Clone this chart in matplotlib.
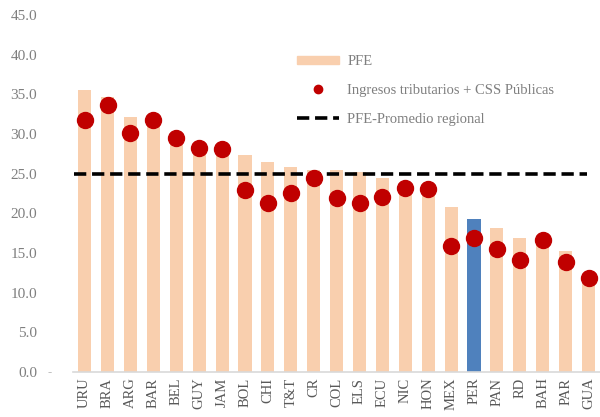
import numpy as np
import matplotlib
matplotlib.use("Agg")
from matplotlib import pyplot as plt
from matplotlib.lines import Line2D
from matplotlib.patches import Patch

# datos
paises = ["URU", "BRA", "ARG", "BAR", "BEL", "GUY", "JAM", "BOL", "CHI", "T&T", "CR",
          "COL", "ELS", "ECU", "NIC", "HON", "MEX", "PER", "PAN", "RD", "BAH", "PAR", "GUA"]
pfe = [35.5, 34.7, 32.2, 32.0, 29.8, 28.5, 28.3, 27.3, 26.5, 25.9, 25.5,
       25.4, 25.2, 24.4, 23.6, 23.4, 20.8, 19.3, 18.2, 16.9, 16.6, 15.2, 12.1]
ingresos = [31.8, 33.7, 30.1, 31.8, 29.5, 28.2, 28.1, 23.0, 21.3, 22.6, 24.4,
            21.9, 21.3, 22.0, 23.2, 23.1, 15.9, 16.9, 15.5, 14.1, 16.6, 13.9, 11.9]
promedio = 25.0
yticks = [0, 5, 10, 15, 20, 25, 30, 35, 40, 45]

serif = ["Liberation Serif", "DejaVu Serif"]
gris = "#7f7f7f"

fig = plt.figure(figsize=(6, 4.17), dpi=100)
ax = fig.add_axes([0.122, 0.108, 0.878, 0.856])

x = np.arange(len(paises))
colores = ["#4f81bd" if p == "PER" else "#f9cfae" for p in paises]
ax.bar(x, pfe, width=0.57, color=colores, zorder=1)
ax.plot(x, ingresos, "o", color="#c00000", markersize=11.5, zorder=3)
ax.hlines(promedio, -0.45, 21.95, colors="black", linewidth=2.6,
          linestyles=(0, (3.4, 1.6)), zorder=2)

ax.set_xlim(-0.5, 22.5)
ax.set_ylim(0, 45)
ax.set_yticks(yticks)
ax.set_yticklabels([f"{v:.1f}" for v in yticks], fontfamily=serif, fontsize=11, color=gris)
ax.set_xticks(x)
ax.set_xticklabels(paises, rotation=90, fontfamily=serif, fontsize=10.5, color="#595959")
ax.tick_params(axis="y", length=0, pad=26)
ax.tick_params(axis="x", length=0, pad=4)
for s in ["top", "right", "left"]:
    ax.spines[s].set_visible(False)
ax.spines["bottom"].set_color("#d9d9d9")
ax.spines["bottom"].set_linewidth(1.2)
ax.text(50 / 600, 1 - 373 / 417, "-", transform=fig.transFigure, fontsize=9,
        color="#bfbfbf", ha="center", va="center", fontfamily=serif)

handles = [Patch(color="#f9cfae"),
           Line2D([], [], marker="o", linestyle="none", color="#c00000", markersize=6),
           Line2D([], [], color="black", linewidth=2.6, linestyle=(0, (3.4, 1.6)))]
etiquetas = ["PFE", "Ingresos tributarios + CSS Públicas", "PFE-Promedio regional"]
leg = ax.legend(handles, etiquetas, loc="upper left", bbox_to_anchor=(0.4, 0.925),
                frameon=False, prop={"family": serif, "size": 10.5},
                handlelength=2.9, handleheight=0.5, labelspacing=1.1, handletextpad=0.55)
for t in leg.get_texts():
    t.set_color(gris)

fig.savefig("out.png", dpi=100)
